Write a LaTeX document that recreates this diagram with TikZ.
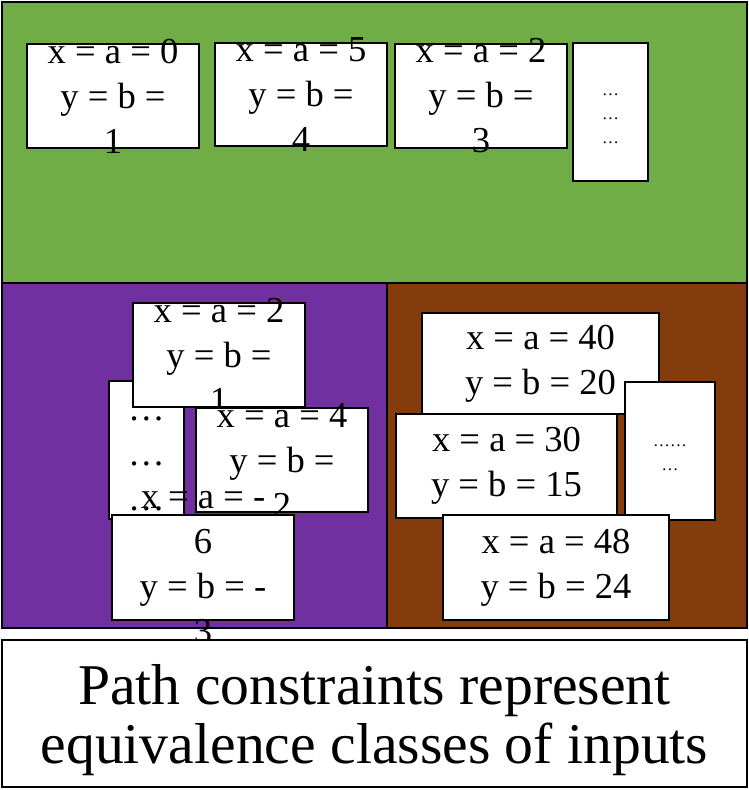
\documentclass[tikz,border=0pt]{standalone}
\usepackage{fontspec}
\setmainfont{Liberation Serif}
\usetikzlibrary{positioning}
\definecolor{grpgreen}{HTML}{70AD47}
\definecolor{grppurple}{HTML}{7030A0}
\definecolor{grpbrown}{HTML}{843C0C}

\begin{document}
\begin{tikzpicture}[
    x=0.025cm, y=-0.025cm,
    region/.style={draw=black, line width=1.4pt},
    card/.style 2 args={draw, fill=white, line width=1.2pt, inner sep=0pt,
                        minimum width=#1*0.025cm, minimum height=#2*0.025cm},
    val/.style={align=center, inner sep=0pt, font=\fontsize{26}{32}\selectfont},
    more/.style={align=center, inner sep=0pt, font=\fontsize{12}{17}\selectfont},
    caption/.style={align=center, inner sep=0pt, font=\fontsize{41}{42}\selectfont}
]
    \useasboundingbox (0,0) rectangle (749,790);
    \fill[white] (0,0) rectangle (749,790);

    % --- regions ---
    \fill[grpgreen, region] (2,2) rectangle (747,283);
    \fill[grppurple, region] (2,283) rectangle (387,628);
    \fill[grpbrown, region] (387,283) rectangle (747,628);

    % --- green class ---
    \node[card={172}{104}] (g1) at (113,96) {};
    \node[val] at (g1) {x = a = 0\\y = b =\\1};
    \node[card={172}{103}] (g2) at (301,94.5) {};
    \node[val] at (g2) {x = a = 5\\y = b =\\4};
    \node[card={172}{104}] (g3) at (481,96) {};
    \node[val] at (g3) {x = a = 2\\y = b =\\3};
    \node[card={75}{138}] (gm) at (610.5,112) {};
    \node[more] at ([yshift=-5]gm) {…\\…\\…};

    % --- purple class ---
    \node[card={75}{138}] (pm) at (146.5,450) {};
    \node[val] at ([yshift=-10]pm) {…\\…\\…};
    \node[card={172}{104}] (p1) at (219,355) {};
    \node[val] at (p1) {x = a = 2\\y = b =\\1};
    \node[card={172}{104}] (p2) at (282,460) {};
    \node[val] at (p2) {x = a = 4\\y = b =\\2};
    \node[card={182}{105}] (p3) at (203,567.5) {};
    \node[val] at (p3) {x = a = -\\6\\y = b = -\\3};

    % --- brown class ---
    \node[card={237}{101}] (b1) at (540.5,363.5) {};
    \node[val] at (b1) {x = a = 40\\y = b = 20};
    \node[card={221}{104}] (b2) at (506.5,466) {};
    \node[val] at (b2) {x = a = 30\\y = b = 15};
    \node[card={90}{138}] (bm) at (670,451) {};
    \node[more] at ([yshift=-5]bm) {……\\…};
    \node[card={226}{105}] (b3) at (556,567.5) {};
    \node[val] at (b3) {x = a = 48\\y = b = 24};

    % --- caption ---
    \node[draw, fill=white, line width=1.2pt, inner sep=0pt,
          minimum width=745*0.025cm, minimum height=147*0.025cm] (cap) at (374.5,713.5) {};
    \node[caption] at ([yshift=-4.5]cap) {Path constraints represent\\equivalence classes of inputs};
\end{tikzpicture}
\end{document}
